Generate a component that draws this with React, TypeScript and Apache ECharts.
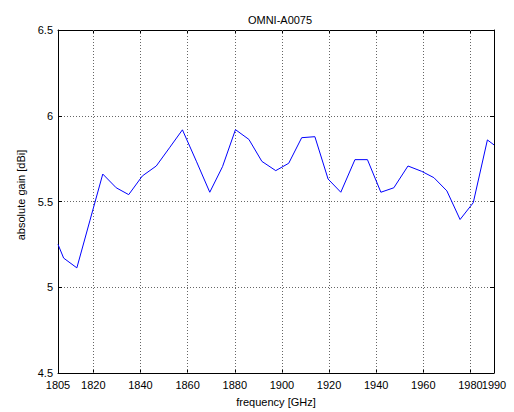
import React, { useEffect, useRef } from "react";
import * as echarts from "echarts";

const frequencies = [1805, 1807.4, 1813, 1818.5, 1824, 1829.7, 1835, 1840.8, 1846.7, 1852.3, 1857.8, 1863.7, 1869.4, 1874.8, 1880.3, 1886, 1891.5, 1897.4, 1902.9, 1908.4, 1914, 1919.6, 1925, 1931, 1936.3, 1942, 1947.5, 1953.5, 1959.3, 1964.5, 1970, 1975.6, 1981.2, 1987.2, 1990];
const gains = [5.25, 5.17, 5.113, 5.387, 5.66, 5.58, 5.54, 5.649, 5.707, 5.813, 5.918, 5.735, 5.554, 5.703, 5.919, 5.862, 5.734, 5.68, 5.723, 5.872, 5.878, 5.631, 5.554, 5.744, 5.744, 5.554, 5.58, 5.707, 5.676, 5.639, 5.562, 5.395, 5.493, 5.859, 5.83];
const xTicks = [1805, 1820, 1840, 1860, 1880, 1900, 1920, 1940, 1960, 1980, 1990];
const xLabelsMain = [1805, 1820, 1840, 1860, 1880, 1900, 1920, 1940, 1960, 1980];
const xLabelsEnd = [1990];
const xGridLines = [1820, 1840, 1860, 1880, 1900, 1920, 1940, 1960, 1980];
const titleText = "OMNI-A0075";
const xName = "frequency [GHz]";
const yName = "absolute gain [dBi]";

const FONT = "'Liberation Sans', Arial, Helvetica, sans-serif";

export default function App() {
  const ref = useRef<HTMLDivElement>(null);
  useEffect(() => {
    if (!ref.current) return;
    const chart = echarts.init(ref.current, undefined, { renderer: "svg" });
    const axisLine = { show: true, lineStyle: { color: "#000", width: 1 } };
    const tick = { show: true, inside: true, length: 4, lineStyle: { color: "#000" } };
    const labelStyle = { fontFamily: FONT, fontSize: 11, color: "#000" };
    chart.setOption({
      animation: false,
      backgroundColor: "#fff",
      title: {
        text: titleText,
        left: 275,
        textAlign: "center",
        top: 9,
        textStyle: { fontFamily: FONT, fontSize: 11, fontWeight: "normal", color: "#000" },
      },
      grid: { left: 58, right: 20, top: 30, bottom: 39, containLabel: false },
      graphic: [
        {
          type: "text",
          x: 21,
          y: 195,
          rotation: Math.PI / 2,
          style: {
            text: yName,
            fontFamily: FONT,
            fontSize: 11,
            fill: "#000",
            align: "center",
            verticalAlign: "middle",
          },
        },
      ],
      xAxis: [
        {
          type: "value",
          min: 1805,
          max: 1990,
          position: "bottom",
          name: xName,
          nameLocation: "middle",
          nameGap: 23,
          nameTextStyle: labelStyle,
          axisLine,
          axisTick: { ...tick, customValues: xTicks },
          axisLabel: {
            ...labelStyle,
            customValues: xLabelsMain,
            interval: 0,
            hideOverlap: false,
            margin: 6,
            showMinLabel: true,
            showMaxLabel: true,
            formatter: (v: number) => String(Math.round(v)),
          },
          splitLine: { show: false },
        },
        {
          type: "value",
          min: 1805,
          max: 1990,
          position: "bottom",
          axisLine: { show: false },
          axisTick: { show: false },
          axisLabel: {
            ...labelStyle,
            customValues: xLabelsEnd,
            margin: 6,
            showMinLabel: true,
            showMaxLabel: true,
            formatter: (v: number) => String(Math.round(v)),
          },
          splitLine: { show: false },
        },
        {
          type: "value",
          min: 1805,
          max: 1990,
          position: "top",
          axisLine,
          axisTick: { ...tick, customValues: xTicks },
          axisLabel: { show: false },
          splitLine: { show: false },
        },
      ],
      yAxis: [
        {
          type: "value",
          min: 4.5,
          max: 6.5,
          interval: 0.5,
          position: "left",
          axisLine,
          axisTick: tick,
          axisLabel: { ...labelStyle, margin: 5, formatter: (v: number) => String(v) },
          splitLine: { show: true, lineStyle: { color: "#666", type: [1, 2], width: 1 } },
        },
        {
          type: "value",
          min: 4.5,
          max: 6.5,
          interval: 0.5,
          position: "right",
          axisLine,
          axisTick: tick,
          axisLabel: { show: false },
          splitLine: { show: false },
        },
      ],
      series: [
        {
          type: "line",
          data: frequencies.map((f, i) => [f, gains[i]]),
          showSymbol: false,
          symbol: "none",
          lineStyle: { color: "#0000ff", width: 1 },
          xAxisIndex: 0,
          yAxisIndex: 0,
          z: 5,
        },
        {
          type: "line",
          data: xGridLines.map((g) => [g, 4.5]),
          symbol: "none",
          lineStyle: { width: 0 },
          xAxisIndex: 0,
          yAxisIndex: 0,
          markLine: {
            silent: true,
            symbol: "none",
            label: { show: false },
            lineStyle: { color: "#666", type: [1, 2], width: 1 },
            data: xGridLines.map((g) => ({ xAxis: g })),
          },
          z: 1,
        },
      ],
    });
    return () => chart.dispose();
  }, []);
  return <div ref={ref} style={{ position: "fixed", left: 0, top: 0, width: 514, height: 412 }} />;
}
